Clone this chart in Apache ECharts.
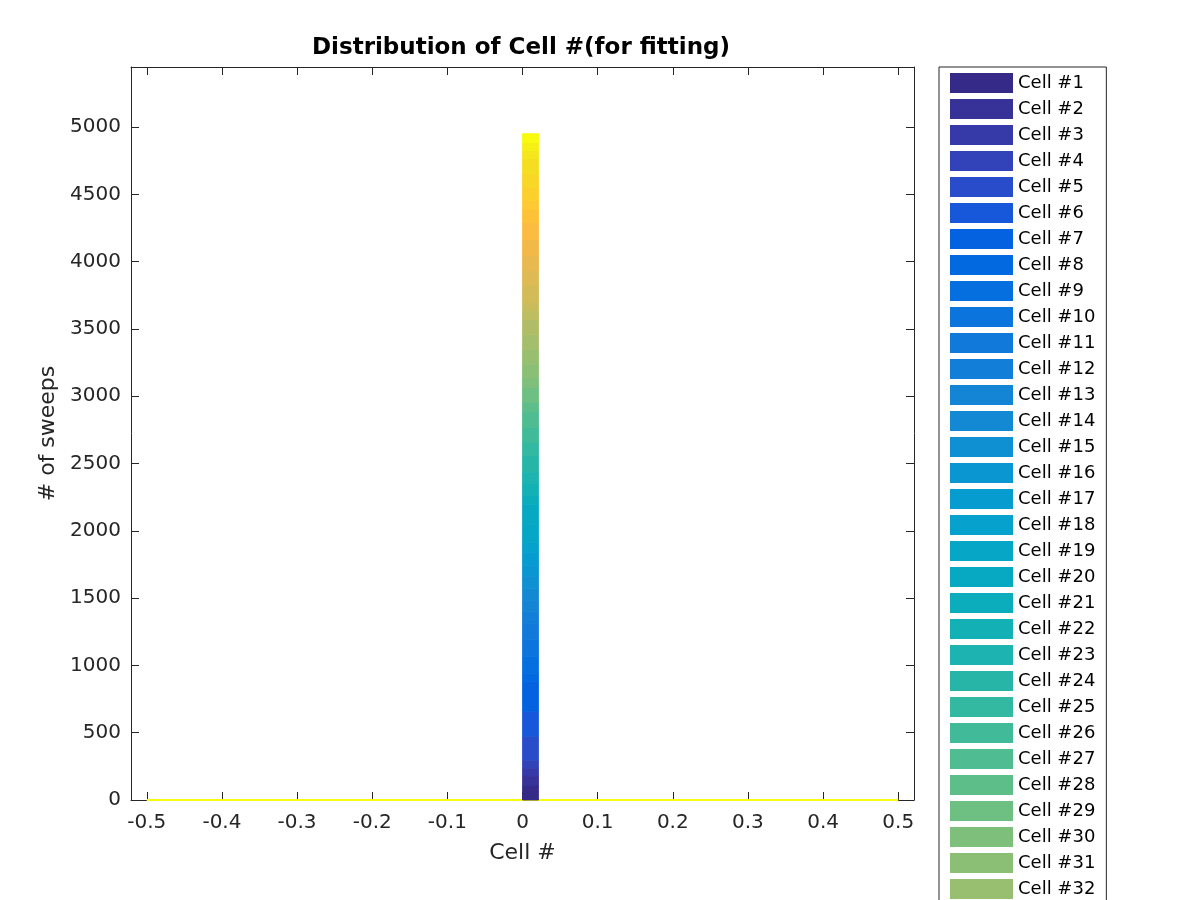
<!DOCTYPE html>
<html>
<head>
<meta charset="utf-8">
<script src="https://cdn.jsdelivr.net/npm/echarts@6/dist/echarts.min.js"></script>
<style>html,body{margin:0;padding:0;background:#fff;}#c{width:1200px;height:900px;}</style>
</head>
<body>
<div id="c"></div>
<script>
// ---- data ----
const binEdges = [0, 0.0213];           // the only populated bin
const binRange = [-0.5, 0.5];           // histogram bin range (zero counts elsewhere)
const cellCounts = [
  104, 74, 59, 59, 178, 186, 223, 59, 126, 126,
  119, 89, 82, 89, 89, 82, 97, 74, 134, 149,
  67, 89, 82, 126, 97, 111, 119, 67, 111, 74,
  97, 111, 111, 111, 67, 59, 126, 111, 111, 119,
  126, 97, 67, 97, 104, 111, 59, 59, 67
];
const cellNames = cellCounts.map((_, i) => 'Cell #' + (i + 1));
const xTicks = [-0.5, -0.4, -0.3, -0.2, -0.1, 0, 0.1, 0.2, 0.3, 0.4, 0.5];
const yTicks = [0, 500, 1000, 1500, 2000, 2500, 3000, 3500, 4000, 4500, 5000];

// ---- parula colormap (style) ----
const parula = [
[0.2081,0.1663,0.5292],[0.2116,0.1898,0.5777],[0.2123,0.2138,0.6270],[0.2081,0.2386,0.6771],
[0.1959,0.2645,0.7279],[0.1707,0.2919,0.7792],[0.1253,0.3242,0.8303],[0.0591,0.3598,0.8683],
[0.0117,0.3875,0.8820],[0.0060,0.4086,0.8828],[0.0165,0.4266,0.8786],[0.0329,0.4430,0.8720],
[0.0498,0.4586,0.8641],[0.0629,0.4737,0.8554],[0.0723,0.4887,0.8467],[0.0779,0.5040,0.8384],
[0.0793,0.5200,0.8312],[0.0749,0.5375,0.8263],[0.0641,0.5570,0.8240],[0.0488,0.5772,0.8228],
[0.0343,0.5966,0.8199],[0.0265,0.6137,0.8135],[0.0239,0.6287,0.8038],[0.0231,0.6418,0.7913],
[0.0228,0.6535,0.7768],[0.0267,0.6642,0.7607],[0.0384,0.6743,0.7436],[0.0590,0.6838,0.7254],
[0.0843,0.6928,0.7062],[0.1133,0.7015,0.6859],[0.1453,0.7098,0.6646],[0.1801,0.7177,0.6424],
[0.2178,0.7250,0.6193],[0.2586,0.7317,0.5954],[0.3022,0.7376,0.5712],[0.3482,0.7424,0.5473],
[0.3953,0.7459,0.5244],[0.4420,0.7481,0.5033],[0.4871,0.7491,0.4840],[0.5300,0.7491,0.4661],
[0.5709,0.7485,0.4494],[0.6099,0.7473,0.4337],[0.6473,0.7456,0.4188],[0.6834,0.7435,0.4044],
[0.7184,0.7411,0.3905],[0.7525,0.7384,0.3768],[0.7858,0.7356,0.3633],[0.8185,0.7327,0.3498],
[0.8507,0.7299,0.3360],[0.8824,0.7274,0.3217],[0.9139,0.7258,0.3063],[0.9450,0.7261,0.2886],
[0.9739,0.7314,0.2666],[0.9938,0.7455,0.2403],[0.9990,0.7653,0.2164],[0.9955,0.7861,0.1967],
[0.9880,0.8066,0.1794],[0.9789,0.8271,0.1633],[0.9697,0.8481,0.1475],[0.9626,0.8705,0.1309],
[0.9589,0.8949,0.1132],[0.9598,0.9218,0.0948],[0.9661,0.9514,0.0755],[0.9763,0.9831,0.0538]
];
function parulaAt(t) {
  const p = t * (parula.length - 1);
  const i = Math.min(Math.floor(p), parula.length - 2);
  const f = p - i;
  const c = parula[i].map((v, k) => v + (parula[i + 1][k] - v) * f);
  return 'rgb(' + c.map(v => Math.round(v * 255)).join(',') + ')';
}
const N = cellCounts.length;
const colors = cellCounts.map((_, i) => parulaAt(i / (N - 1)));

const FONT = 'DejaVu Sans';
const AX = '#262626';

// stacked histogram segments: each cell sits on top of the previous ones
function renderSegment(params, api) {
  const p0 = api.coord([api.value(0), api.value(2)]);
  const p1 = api.coord([api.value(1), api.value(3)]);
  const c = api.visual('color');
  return {
    type: 'rect',
    shape: { x: p0[0], y: p1[1], width: p1[0] - p0[0], height: p0[1] - p1[1] },
    style: { fill: c, stroke: c, lineWidth: 0.8 }
  };
}
let running = 0;
const series = cellCounts.map((v, i) => {
  const base = running;
  running += v;
  return {
    name: cellNames[i],
    type: 'custom',
    xAxisIndex: 0, yAxisIndex: 0,
    renderItem: renderSegment,
    encode: { x: [0, 1], y: [2, 3] },
    data: [[binEdges[0], binEdges[1], base, base + v]],
    itemStyle: { color: colors[i] },
    silent: true,
    z: 3
  };
});
series.push({
  name: 'zeroBins',
  type: 'line',
  xAxisIndex: 0, yAxisIndex: 0,
  data: binRange.map(x => [x, 0]),
  symbol: 'none',
  lineStyle: { color: colors[N - 1], width: 2 },
  silent: true,
  z: 1
});

const tickCommon = { inside: true, length: 8, lineStyle: { color: AX, width: 1 } };

const option = {
  animation: false,
  backgroundColor: '#fff',
  title: {
    text: 'Distribution of Cell #(for fitting)',
    left: 516, top: 32, textAlign: 'center',
    textStyle: { fontFamily: FONT, fontSize: 23, fontWeight: 'bold', color: '#000' }
  },
  grid: { left: 131, top: 67, width: 783, height: 733, show: false },
  legend: {
    data: cellNames,
    orient: 'vertical',
    left: 939, top: 67, height: 2000,
    padding: [6, 11, 6, 11],
    itemWidth: 63, itemHeight: 20, itemGap: 6,
    icon: 'rect',
    borderColor: AX, borderWidth: 1, backgroundColor: '#fff',
    selectedMode: false,
    textStyle: { fontFamily: FONT, fontSize: 18, color: '#000' }
  },
  xAxis: [{
    type: 'value', min: -0.521, max: 0.521, position: 'bottom',
    name: 'Cell #', nameLocation: 'middle', nameGap: 42,
    nameTextStyle: { fontFamily: FONT, fontSize: 22, color: AX },
    axisLine: { show: true, onZero: false, lineStyle: { color: AX, width: 1 } },
    axisTick: Object.assign({ customValues: xTicks }, tickCommon),
    axisLabel: { customValues: xTicks, fontFamily: FONT, fontSize: 20, color: AX, margin: 13,
                 formatter: v => String(v) },
    splitLine: { show: false }
  }, {
    type: 'value', min: -0.521, max: 0.521, position: 'top',
    axisLine: { show: true, onZero: false, lineStyle: { color: AX, width: 1 } },
    axisTick: Object.assign({ customValues: xTicks }, tickCommon),
    axisLabel: { show: false },
    splitLine: { show: false }
  }],
  yAxis: [{
    type: 'value', min: 0, max: 5446, position: 'left',
    name: '# of sweeps', nameLocation: 'middle', nameGap: 56,
    nameTextStyle: { fontFamily: FONT, fontSize: 22, color: AX },
    axisLine: { show: true, onZero: false, lineStyle: { color: AX, width: 1 } },
    axisTick: Object.assign({ customValues: yTicks }, tickCommon),
    axisLabel: { customValues: yTicks, fontFamily: FONT, fontSize: 20, color: AX, margin: 10,
                 formatter: v => String(v) },
    splitLine: { show: false }
  }, {
    type: 'value', min: 0, max: 5446, position: 'right',
    axisLine: { show: true, onZero: false, lineStyle: { color: AX, width: 1 } },
    axisTick: Object.assign({ customValues: yTicks }, tickCommon),
    axisLabel: { show: false },
    splitLine: { show: false }
  }],
  series: series
};

const chart = echarts.init(document.getElementById('c'), null, { renderer: 'canvas' });
chart.setOption(option);
</script>
</body>
</html>
